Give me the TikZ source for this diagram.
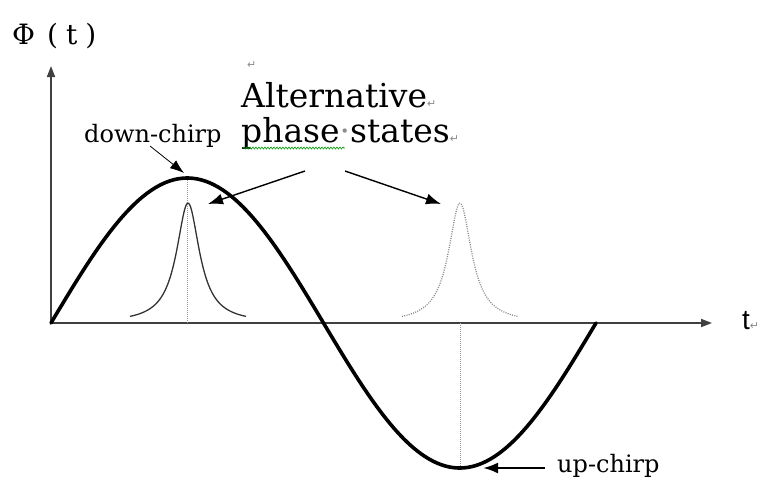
\documentclass[tikz,border=0pt]{standalone}
\usepackage{fontspec}
\setmainfont{DejaVu Serif}
\newfontfamily\axisfont{Liberation Sans}
\newfontfamily\markfont{DejaVu Sans}
\usetikzlibrary{arrows.meta,decorations.pathmorphing}
\newcommand{\retmark}{{\markfont\fontsize{11}{11}\selectfont\color{black!45}↵}}
\newcommand{\spcmark}{{\color{black!45}·}}

\begin{document}
\begin{tikzpicture}[x=1pt,y=-1pt,every node/.style={inner sep=0pt}]
    \tikzset{
      axis/.style={line width=1.8pt,draw=black!75},
      axarr/.style={-{Triangle[length=11pt,width=8pt]}},
      wave/.style={line width=3.6pt,line join=round,line cap=round},
      pulse/.style={line width=1.3pt,draw=black!80},
      ghost/.style={line width=1.3pt,draw=black!45,dash pattern=on 1pt off 1.3pt},
      guide/.style={line width=0.8pt,draw=black!40,dash pattern=on 1pt off 1pt},
      arr/.style={-{Latex[length=15pt,width=11pt]},line width=1.4pt},
      thinarr/.style={-{Latex[length=14pt,width=10pt]},line width=0.8pt},
      big/.style={font=\fontsize{33}{35}\selectfont},
      small/.style={font=\fontsize{24}{26}\selectfont},
      spell/.style={draw=green!60!black,line width=0.6pt,
        decorate,decoration={snake,amplitude=1pt,segment length=3pt}}
    }
    \useasboundingbox[fill=white] (0,0) rectangle (769,480);

    % axes
    \coordinate (O) at (51,323);
    \coordinate (ytip) at (51,66);
    \coordinate (xtip) at (712,323);
    \draw[axis,axarr] (O) -- (ytip);
    \draw[axis,axarr] (O) -- (xtip);
    \node[anchor=base west,font=\fontsize{28}{28}\selectfont] (phi) at (12,44)
      {Φ\hspace{12pt}(\hspace{8pt}t\hspace{8pt})};
    \node[anchor=base west,font=\axisfont\fontsize{28}{28}\selectfont] (tlab)
      at (742,329) {t\retmark};

    % guides to crest and trough
    \coordinate (crest) at (187,178);
    \coordinate (crestbase) at (187,323);
    \coordinate (trough) at (460,468);
    \coordinate (troughbase) at (460,323);
    \draw[guide] (crest) -- (crestbase);
    \draw[guide] (troughbase) -- (trough);

    % phase
    \draw[wave] plot[domain=0:545,samples=120,smooth]
      ({51+\x},{323-145*sin(0.66055*\x)});

    % pulses
    \draw[pulse] plot[domain=-58:58,samples=90,smooth]
      ({188+\x},{323-120/(1+(\x/14)^2)});
    \draw[ghost] plot[domain=-58:58,samples=90,smooth]
      ({460+\x},{323-120/(1+(\x/14)^2)});

    % labels
    \node[anchor=base west] (mtop) at (247,68) {\retmark};
    \node[big,anchor=base west] (alt) at (241,107) {Alternative\retmark};
    \node[big,anchor=base west] (phs) at (241,142) {phase\spcmark states\retmark};
    \draw[spell] (243,148) -- (345,148);
    \coordinate (s1) at (305,171);
    \coordinate (s2) at (345,171);
    \coordinate (p1) at (208,204);
    \coordinate (p2) at (441,204);
    \draw[arr] (s1) -- (p1);
    \draw[arr] (s2) -- (p2);

    \node[small,anchor=base west] (down) at (84,142) {down-chirp};
    \coordinate (d1) at (150,146);
    \coordinate (d2) at (184,173);
    \draw[thinarr] (d1) -- (d2);

    \node[small,anchor=base west] (up) at (557,472) {up-chirp};
    \coordinate (u1) at (545,468);
    \coordinate (u2) at (483,468);
    \draw[arr,line width=2.4pt] (u1) -- (u2);
\end{tikzpicture}
\end{document}
